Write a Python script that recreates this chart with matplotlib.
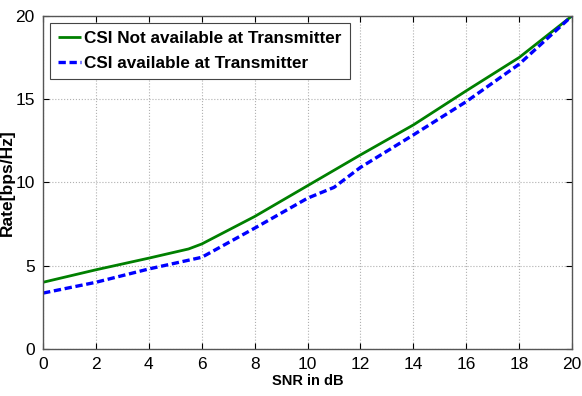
import matplotlib
matplotlib.use("Agg")
import matplotlib.pyplot as plt

# values
snr_green = [0, 2, 4, 5.5, 6, 8, 10, 12, 14, 16, 18, 20]
rate_green = [4.0, 4.75, 5.45, 6.0, 6.3, 7.95, 9.8, 11.65, 13.45, 15.5, 17.5, 20.0]

snr_blue = [0, 2, 4, 6, 8, 10, 11, 12, 14, 16, 18, 20]
rate_blue = [3.35, 4.0, 4.8, 5.5, 7.25, 9.05, 9.7, 10.9, 12.85, 14.85, 17.1, 20.0]

xticks = list(range(0, 21, 2))
yticks = [0, 5, 10, 15, 20]

plt.rcParams['font.family'] = ['Liberation Sans', 'DejaVu Sans']

fig = plt.figure(figsize=(5.82, 3.96), dpi=100)
ax = fig.add_axes([0.074, 0.119, 0.909, 0.841])

ax.plot(snr_green, rate_green, color='#008000', lw=2.0, solid_capstyle='butt',
        label='CSI Not available at Transmitter')
ax.plot(snr_blue, rate_blue, color='#0000ff', lw=2.4, dashes=(2.2, 1.1),
        label='CSI available at Transmitter')

ax.set_xlim(0, 20)
ax.set_ylim(0, 20)
ax.set_xticks(xticks)
ax.set_yticks(yticks)
ax.tick_params(direction='in', top=True, right=True, length=4, labelsize=12.5,
               pad=6)
ax.grid(True, linestyle=':', color='#b0b0b0', lw=0.8)
for s in ax.spines.values():
    s.set_color('#555555')
    s.set_linewidth(1.0)

ax.set_xlabel('SNR in dB', fontsize=10.5, fontweight='bold', labelpad=1)
ax.set_ylabel('Rate[bps/Hz]', fontsize=12.5, fontweight='bold', labelpad=0)

leg = ax.legend(loc='upper left', fancybox=False, framealpha=1,
                edgecolor='#444444', handlelength=1.3, handletextpad=0.2,
                borderpad=0.5, labelspacing=0.55, borderaxespad=0.4,
                prop={'size': 12.3, 'weight': 'bold'})
leg.get_frame().set_linewidth(0.8)

fig.savefig('out.png', dpi=100)
